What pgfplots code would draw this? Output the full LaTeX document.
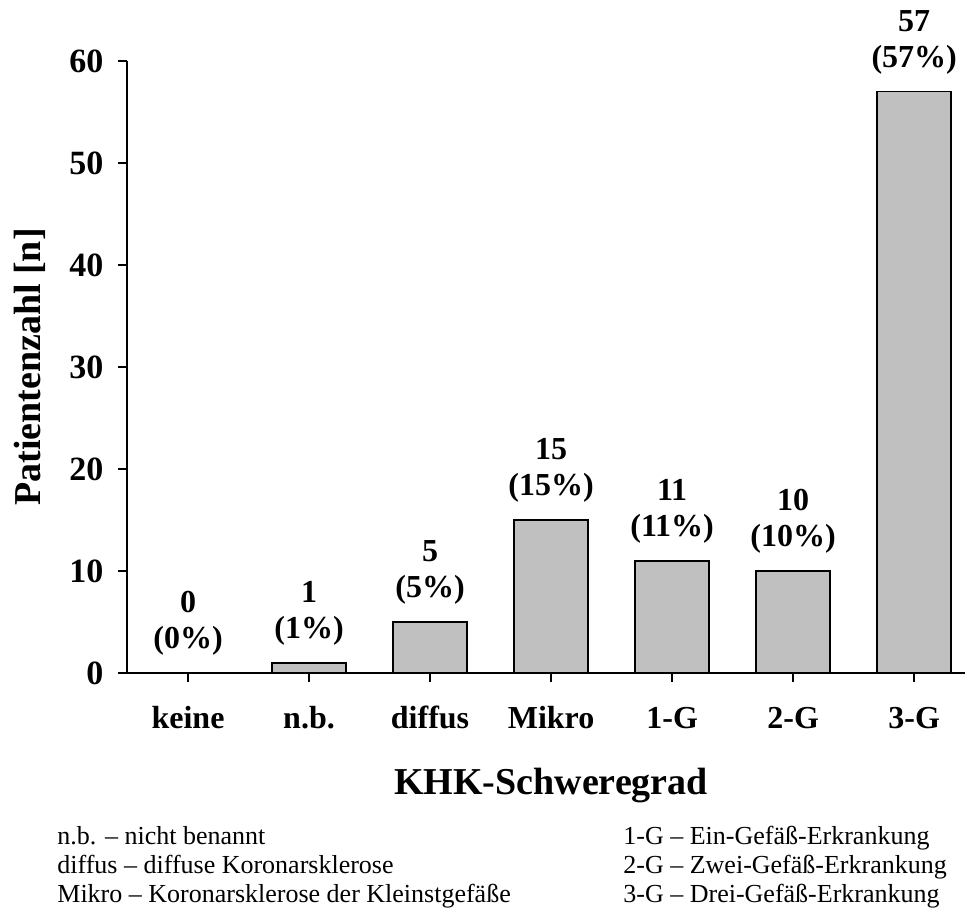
\documentclass[border=0pt]{standalone}
\usepackage{fontspec}
\setmainfont{Liberation Serif}
\usepackage{pgfplots}
\pgfplotsset{compat=1.18}

\definecolor{bargray}{HTML}{C0C0C0}

\begin{document}
\begin{tikzpicture}
\useasboundingbox (0,0) rectangle (482.5pt,456pt);
\begin{axis}[
  at={(63.75pt,119.5pt)}, anchor=south west,
  scale only axis,
  width=418.75pt, height=306pt,
  xmin=-0.5, xmax=6.42,
  ymin=0, ymax=60,
  clip=false,
  axis x line=bottom, axis y line=left,
  axis line style={-, line width=1pt, black},
  ybar, bar width=37pt,
  xtick={0,...,6},
  xticklabels={keine, n.b., diffus, Mikro, 1-G, 2-G, 3-G},
  ytick={0,10,...,60},
  tick align=outside,
  major tick length=4.5pt,
  tick style={black, line width=1pt},
  /pgf/number format/assume math mode=true,
  xticklabel style={font=\bfseries\fontsize{16}{18}\selectfont,
    anchor=base, yshift=-23pt},
  yticklabel style={font=\bfseries\fontsize{17}{19}\selectfont,
    xshift=-4pt},
  ylabel={Patientenzahl [n]},
  ylabel style={font=\bfseries\fontsize{19}{22}\selectfont,
    at={(axis description cs:-0.1164,0.5)}, anchor=center, rotate=0},
  xlabel={KHK-Schweregrad},
  xlabel style={font=\bfseries\fontsize{19}{22}\selectfont,
    at={(axis description cs:0.5057,-0.1993)}, anchor=base},
  nodes near coords={\pgfmathprintnumber{\pgfplotspointmeta}\\(\pgfmathprintnumber{\pgfplotspointmeta}\%)},
  every node near coord/.append style={font=\bfseries\fontsize{16}{18}\selectfont,
    align=center, anchor=south, inner sep=0pt, yshift=8.5pt},
]
\addplot[fill=bargray, draw=black, line width=0.75pt] coordinates {
  (0,0) (1,1) (2,5) (3,15) (4,11) (5,10) (6,57)
};
\end{axis}

% Abkuerzungen unter dem Diagramm
\begin{scope}[every node/.style={anchor=base west, inner sep=0pt,
    font=\fontsize{13}{14.5}\selectfont}]
  \node at (28.5pt,34pt)   {n.b. – nicht benannt};
  \node at (28.5pt,19.5pt) {diffus – diffuse Koronarsklerose};
  \node at (28.5pt,5pt)    {Mikro – Koronarsklerose der Kleinstgefäße};
  \node at (311.5pt,34pt)   {1-G – Ein-Gefäß-Erkrankung};
  \node at (311.5pt,19.5pt) {2-G – Zwei-Gefäß-Erkrankung};
  \node at (311.5pt,5pt)    {3-G – Drei-Gefäß-Erkrankung};
\end{scope}
\end{tikzpicture}
\end{document}
